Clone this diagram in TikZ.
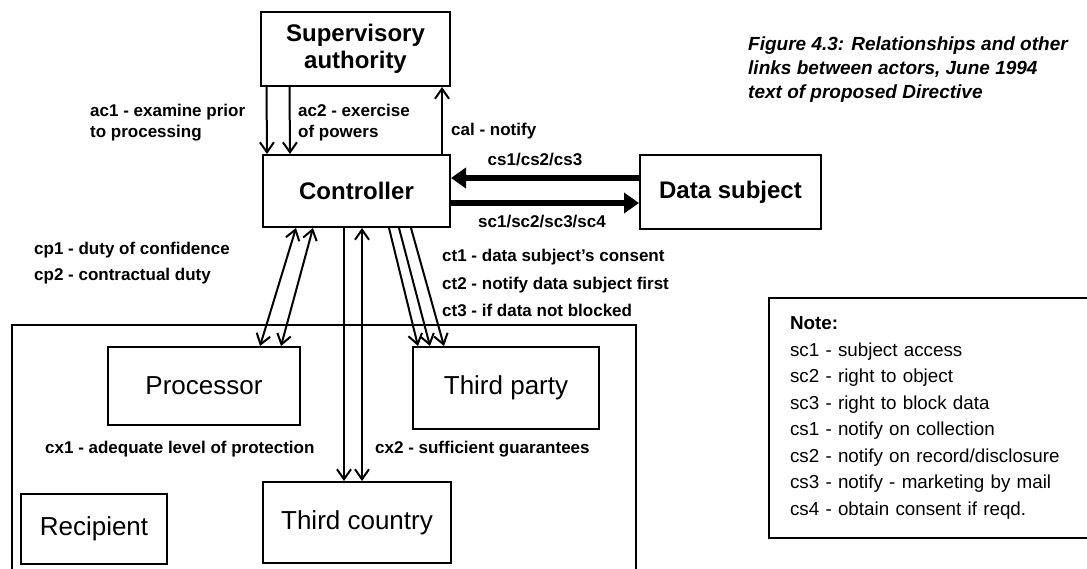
\documentclass[tikz,border=0pt]{standalone}
\usepackage{fontspec}
\setmainfont{Liberation Sans}
\usetikzlibrary{arrows.meta}

\tikzset{
	actor/.style={draw, line width=2pt, align=center, inner sep=0pt},
	bactor/.style={actor, font=\fontsize{24}{27}\selectfont\bfseries},
	ractor/.style={actor, font=\fontsize{26}{29}\selectfont},
	lbl/.style={align=left, inner sep=0pt, font=\fontsize{17}{21}\selectfont\bfseries},
	conn/.style={line width=2pt, -{Straight Barb[length=10pt,width=14pt]}},
	dconn/.style={line width=2pt, {Straight Barb[length=10pt,width=14pt]}-{Straight Barb[length=10pt,width=14pt]}},
	fat/.style={line width=6pt, -{Triangle[length=15pt,width=20pt]}},
}

\begin{document}
\begin{tikzpicture}[x=1pt,y=-1pt]
				\useasboundingbox (0,0) rectangle (1087,568);
				\fill[white] (0,0) rectangle (1087,568);
				\clip (0,0) rectangle (1087,568);
				
				\node[bactor, minimum width=189pt, minimum height=74pt]  (sup) at (355.5,49) {Supervisory\\authority};
				\node[bactor, minimum width=187pt, minimum height=72pt]  (ctrl) at (356.5,191) {Controller};
				\node[bactor, minimum width=181pt, minimum height=74pt]  (ds) at (730.5,192) {Data subject};
				
				% recipient region, runs off the page
				\draw[line width=2pt] (12,580) -- (12,325) -- (636,325) -- (636,580);
				
				\node[ractor, minimum width=192pt, minimum height=78pt]  (proc) at (204,386) {Processor};
				\node[ractor, minimum width=186pt, minimum height=82pt]  (tp) at (506,388) {Third party};
				\node[ractor, minimum width=188pt, minimum height=81pt]  (tc) at (357,522.5) {Third country};
				\node[ractor, minimum width=146pt, minimum height=70pt]  (rec) at (94,529) {Recipient};
				
				\draw[conn] ([xshift=-89pt]sup.south) -- ([xshift=-89.5pt]ctrl.north); % ac1
				\draw[conn] ([xshift=-66pt]sup.south) -- ([xshift=-66.5pt]ctrl.north); % ac2
				\draw[conn] ([xshift=85.5pt]ctrl.north) -- ([xshift=86.5pt]sup.south); % cal
				
				\draw[fat] ([yshift=14pt]ds.west) -- ([yshift=13pt]ctrl.east); % cs
				\draw[fat] ([yshift=-12pt]ctrl.east) -- ([yshift=-11pt]ds.west); % sc
				
				\draw[dconn] ([xshift=-60.5pt]ctrl.south) -- ([xshift=56pt]proc.north);
				\draw[dconn] ([xshift=-43.5pt]ctrl.south) -- ([xshift=77pt]proc.north);
				\draw[conn] ([xshift=-12.5pt]ctrl.south) -- ([xshift=-13pt]tc.north);
				\draw[dconn] ([xshift=5.5pt]ctrl.south) -- ([xshift=5pt]tc.north);
				\draw[conn] ([xshift=32.5pt]ctrl.south) -- ([xshift=-88pt]tp.north);
				\draw[conn] ([xshift=42.5pt]ctrl.south) -- ([xshift=-76pt]tp.north);
				\draw[conn] ([xshift=54.5pt]ctrl.south) -- ([xshift=-62pt]tp.north);
				
				\node[lbl, anchor=north west] (ac1) at (90,104) {ac1 - examine prior\\to processing};
				\node[lbl, anchor=north west] (ac2) at (298,104) {ac2 - exercise\\of powers};
				\node[lbl, anchor=west] (cal) at (451,131) {cal - notify};
				\node[lbl] (cs) at (535,160) {cs1/cs2/cs3};
				\node[lbl] (sc) at (542,222) {sc1/sc2/sc3/sc4};
				\node[lbl, anchor=north west, font=\fontsize{17}{26}\selectfont\bfseries] (cp) at (34,242) {cp1 - duty of confidence\\cp2 - contractual duty};
				\node[lbl, anchor=north west, font=\fontsize{17}{27.5}\selectfont\bfseries] (ct) at (442,249) {ct1 - data subject's consent\\ct2 - notify data subject first\\ct3 - if data not blocked};
				\node[lbl, anchor=west] (cx1) at (45,449) {cx1 - adequate level of protection};
				\node[lbl, anchor=west] (cx2) at (375,449) {cx2 - sufficient guarantees};
				
				\node[lbl, anchor=north west, font=\fontsize{19}{24}\selectfont\bfseries\itshape] (cap) at (748,37) {Figure 4.3: Relationships and other\\links between actors, June 1994\\text of proposed Directive};
				
				\node[draw, line width=2pt, anchor=north west, minimum width=335pt, minimum height=240pt, text width=300pt, inner xsep=21pt, align=left, font=\fontsize{18.8}{26.5}\selectfont] (note) at (768,297) {\textbf{Note:}\\sc1 - subject access\\sc2 - right to object\\sc3 - right to block data\\cs1 - notify on collection\\cs2 - notify on record/disclosure\\cs3 - notify - marketing by mail\\cs4 - obtain consent if reqd.};
				
			\end{tikzpicture}
\end{document}
